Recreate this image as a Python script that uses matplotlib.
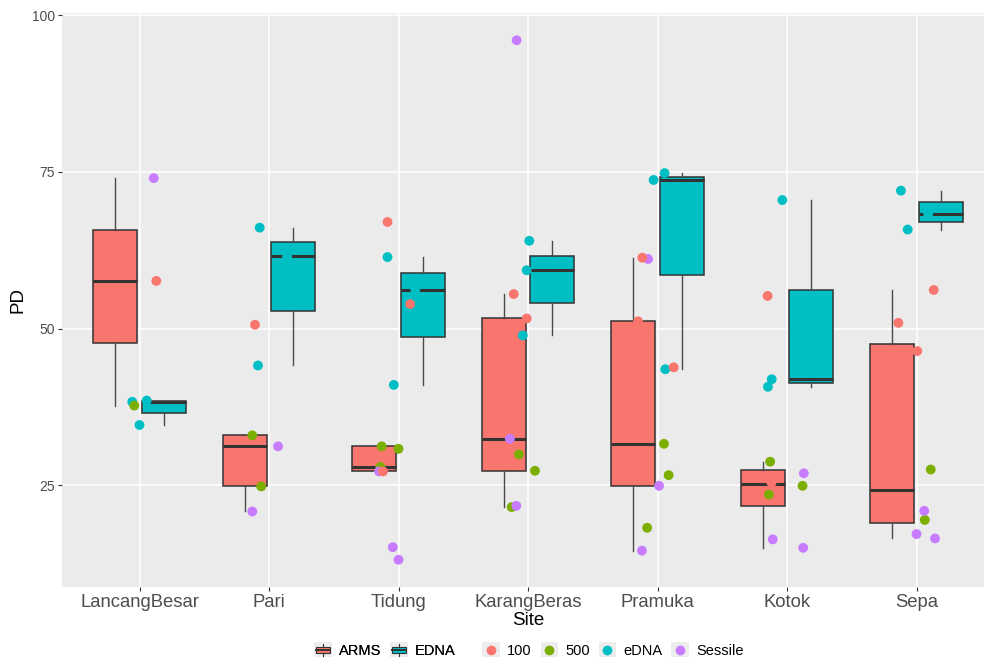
import matplotlib
matplotlib.use('Agg')
import matplotlib.pyplot as plt
from matplotlib.patches import Rectangle, Patch
from matplotlib.lines import Line2D
from matplotlib.legend_handler import HandlerBase
import numpy as np

plt.rcParams['font.family'] = ['Liberation Sans', 'DejaVu Sans']

# ---------------- data ----------------
sites = ['LancangBesar', 'Pari', 'Tidung', 'KarangBeras', 'Pramuka', 'Kotok', 'Sepa']
box_types = ['ARMS', 'EDNA']
groups = ['100', '500', 'eDNA', 'Sessile']
y_ticks = [25, 50, 75, 100]

# group "100"
g100_site = [0, 1, 2, 2, 2, 3, 3, 3, 4, 4, 4, 5, 5, 6, 6, 6]
g100_pd   = [57.6, 50.6, 67.0, 53.9, 27.2, 55.5, 51.6, 42.0, 61.3, 51.15, 43.8,
             55.2, 25.4, 56.15, 50.9, 46.4]
g100_jit  = [0.13, -0.108, -0.085, 0.09, -0.12, -0.11, -0.01, -0.08, -0.117, -0.15, 0.125,
             -0.15, -0.12, 0.133, -0.14, 0.006]

# group "500"
g500_site = [0, 1, 1, 2, 2, 2, 3, 3, 3, 4, 4, 4, 5, 5, 5, 6, 6]
g500_pd   = [37.7, 32.95, 24.8, 31.2, 30.8, 27.9, 29.9, 27.3, 21.5, 31.6, 26.6, 18.2,
             28.75, 24.9, 23.5, 27.5, 19.45]
g500_jit  = [-0.04, -0.129, -0.06, -0.13, 0.0, -0.14, -0.07, 0.054, -0.126, 0.05, 0.086, -0.08,
             -0.13, 0.12, -0.14, 0.11, 0.064]

# group "Sessile"
gses_site = [0, 1, 1, 2, 2, 2, 3, 3, 3, 4, 4, 4, 5, 5, 5, 6, 6, 6]
gses_pd   = [74.0, 31.2, 20.8, 27.2, 15.1, 13.1, 96.0, 32.4, 21.7, 61.1, 24.9, 14.55,
             26.9, 16.35, 15.0, 20.9, 17.2, 16.5]
gses_jit  = [0.11, 0.07, -0.129, -0.15, -0.044, 0.0, -0.088, -0.14, -0.09, -0.073, 0.012, -0.12,
             0.13, -0.11, 0.125, 0.06, 0.0, 0.143]

# group "eDNA"
gedna_site = [0, 0, 0, 1, 1, 1, 2, 2, 2, 3, 3, 3, 4, 4, 4, 5, 5, 5, 6, 6, 6]
gedna_pd   = [38.3, 38.5, 34.6, 66.1, 44.1, 61.5, 61.4, 41.0, 56.2, 64.0, 59.3, 48.9,
              74.8, 73.7, 43.5, 70.5, 41.9, 40.7, 72.0, 65.8, 68.3]
gedna_jit  = [-0.056, 0.056, 0.0, -0.072, -0.085, 0.14, -0.085, -0.036, 0.13, 0.01, -0.01, -0.04,
              0.055, -0.03, 0.06, -0.036, -0.118, -0.147, -0.12, -0.068, 0.09]

# ---------------- styling ----------------
fill_colors = {'ARMS': '#F8766D', 'EDNA': '#00BFC4'}
pt_colors = {'100': '#F8766D', '500': '#7CAE00', 'eDNA': '#00BFC4', 'Sessile': '#C77CFF'}
edge = '#333333'
key_bg = '#EDEDED'

W, H = 984, 660
fig = plt.figure(figsize=(W / 100, H / 100), dpi=100)
left_px, right_px, top_px, bot_px = 61.8, 994.2, 13.0, 587.0
ax = fig.add_axes([left_px / W, 1 - bot_px / H, (right_px - left_px) / W, (bot_px - top_px) / H])
ax.set_facecolor('#EBEBEB')

# box data built from the points
arms = [[] for _ in sites]
edna = [[] for _ in sites]
for s, v in zip(g100_site, g100_pd):
    arms[s].append(v)
for s, v in zip(g500_site, g500_pd):
    arms[s].append(v)
for s, v in zip(gses_site, gses_pd):
    arms[s].append(v)
for s, v in zip(gedna_site, gedna_pd):
    edna[s].append(v)

xpos = np.arange(len(sites))
dodge = 0.1875
bw = 0.3375
for data, off, key in [(arms, -dodge, 'ARMS'), (edna, dodge, 'EDNA')]:
    bp = ax.boxplot(data, positions=xpos + off, widths=bw, patch_artist=True,
                    showfliers=False, showcaps=False, manage_ticks=False,
                    boxprops=dict(facecolor=fill_colors[key], edgecolor=edge, linewidth=1.1),
                    medianprops=dict(color=edge, linewidth=2.2, solid_capstyle='butt'),
                    whiskerprops=dict(color='#4a4a4a', linewidth=1.0))
    for b in bp['boxes']:
        b.set_zorder(2)
    for m in bp['medians']:
        m.set_zorder(2.1)

ms = 50
for sites_i, vals, jit, g in [(gedna_site, gedna_pd, gedna_jit, 'eDNA'),
                              (g500_site, g500_pd, g500_jit, '500'),
                              (gses_site, gses_pd, gses_jit, 'Sessile'),
                              (g100_site, g100_pd, g100_jit, '100')]:
    xs = np.array(sites_i) + np.array(jit)
    ax.scatter(xs, vals, s=ms, color=pt_colors[g], edgecolors='none', zorder=3)

ax.set_xlim(-0.6, len(sites) - 1 + 0.6)
ax.set_ylim(8.75, 100.35)
ax.set_xticks(xpos)
ax.set_xticklabels(sites, fontsize=13.3, color='#4D4D4D')
ax.set_yticks(y_ticks)
ax.set_yticklabels([str(t) for t in y_ticks], fontsize=10, color='#4D4D4D')
ax.tick_params(axis='both', length=3.0, width=0.8, color='#333333', pad=2)
ax.grid(True, color='white', linewidth=1.1)
ax.set_axisbelow(True)
for sp in ax.spines.values():
    sp.set_visible(False)
ax.set_xlabel('Site', fontsize=13.5, labelpad=1)
ax.set_ylabel('PD', fontsize=13.5, labelpad=4)


# ---------------- legends ----------------
class BoxKey(HandlerBase):
    def __init__(self, color):
        super().__init__()
        self.color = color

    def create_artists(self, legend, orig_handle, xdescent, ydescent, width, height, fontsize, trans):
        x0, y0 = -xdescent, -ydescent
        bg = Rectangle((x0, y0), width, height, facecolor=key_bg, edgecolor='none', transform=trans)
        bx = Rectangle((x0 + 0.12 * width, y0 + 0.3 * height), 0.76 * width, 0.4 * height,
                       facecolor=self.color, edgecolor=edge, linewidth=0.8, transform=trans)
        med = Line2D([x0 + 0.12 * width, x0 + 0.88 * width], [y0 + 0.5 * height] * 2,
                     color=edge, linewidth=1.4, transform=trans)
        w1 = Line2D([x0 + 0.5 * width] * 2, [y0 + 0.1 * height, y0 + 0.3 * height],
                    color=edge, linewidth=0.8, transform=trans)
        w2 = Line2D([x0 + 0.5 * width] * 2, [y0 + 0.7 * height, y0 + 0.9 * height],
                    color=edge, linewidth=0.8, transform=trans)
        return [bg, bx, med, w1, w2]


class PointKey(HandlerBase):
    def __init__(self, color):
        super().__init__()
        self.color = color

    def create_artists(self, legend, orig_handle, xdescent, ydescent, width, height, fontsize, trans):
        x0, y0 = -xdescent, -ydescent
        bg = Rectangle((x0, y0), width, height, facecolor=key_bg, edgecolor='none', transform=trans)
        pt = Line2D([x0 + 0.5 * width], [y0 + 0.5 * height], marker='o', markersize=7,
                    color=self.color, markeredgewidth=0, linestyle='none', transform=trans)
        return [bg, pt]


h1 = [Patch() for _ in box_types]
hm1 = {h: BoxKey(fill_colors[k]) for h, k in zip(h1, box_types)}
leg1 = fig.legend(h1, box_types, handler_map=hm1, loc='center', ncol=2,
                  bbox_to_anchor=(385 / W, 1 - 650 / H), frameon=False, fontsize=10.5,
                  handlelength=1.2, handleheight=1.2, handletextpad=0.5, columnspacing=0.6,
                  borderpad=0, borderaxespad=0)
h2 = [Patch() for _ in groups]
hm2 = {h: PointKey(pt_colors[k]) for h, k in zip(h2, groups)}
leg2 = fig.legend(h2, groups, handler_map=hm2, loc='center', ncol=4,
                  bbox_to_anchor=(613 / W, 1 - 650 / H), frameon=False, fontsize=10.5,
                  handlelength=1.2, handleheight=1.2, handletextpad=0.5, columnspacing=0.6,
                  borderpad=0, borderaxespad=0)
fig.add_artist(leg1)

fig.savefig('out.png', dpi=100)
